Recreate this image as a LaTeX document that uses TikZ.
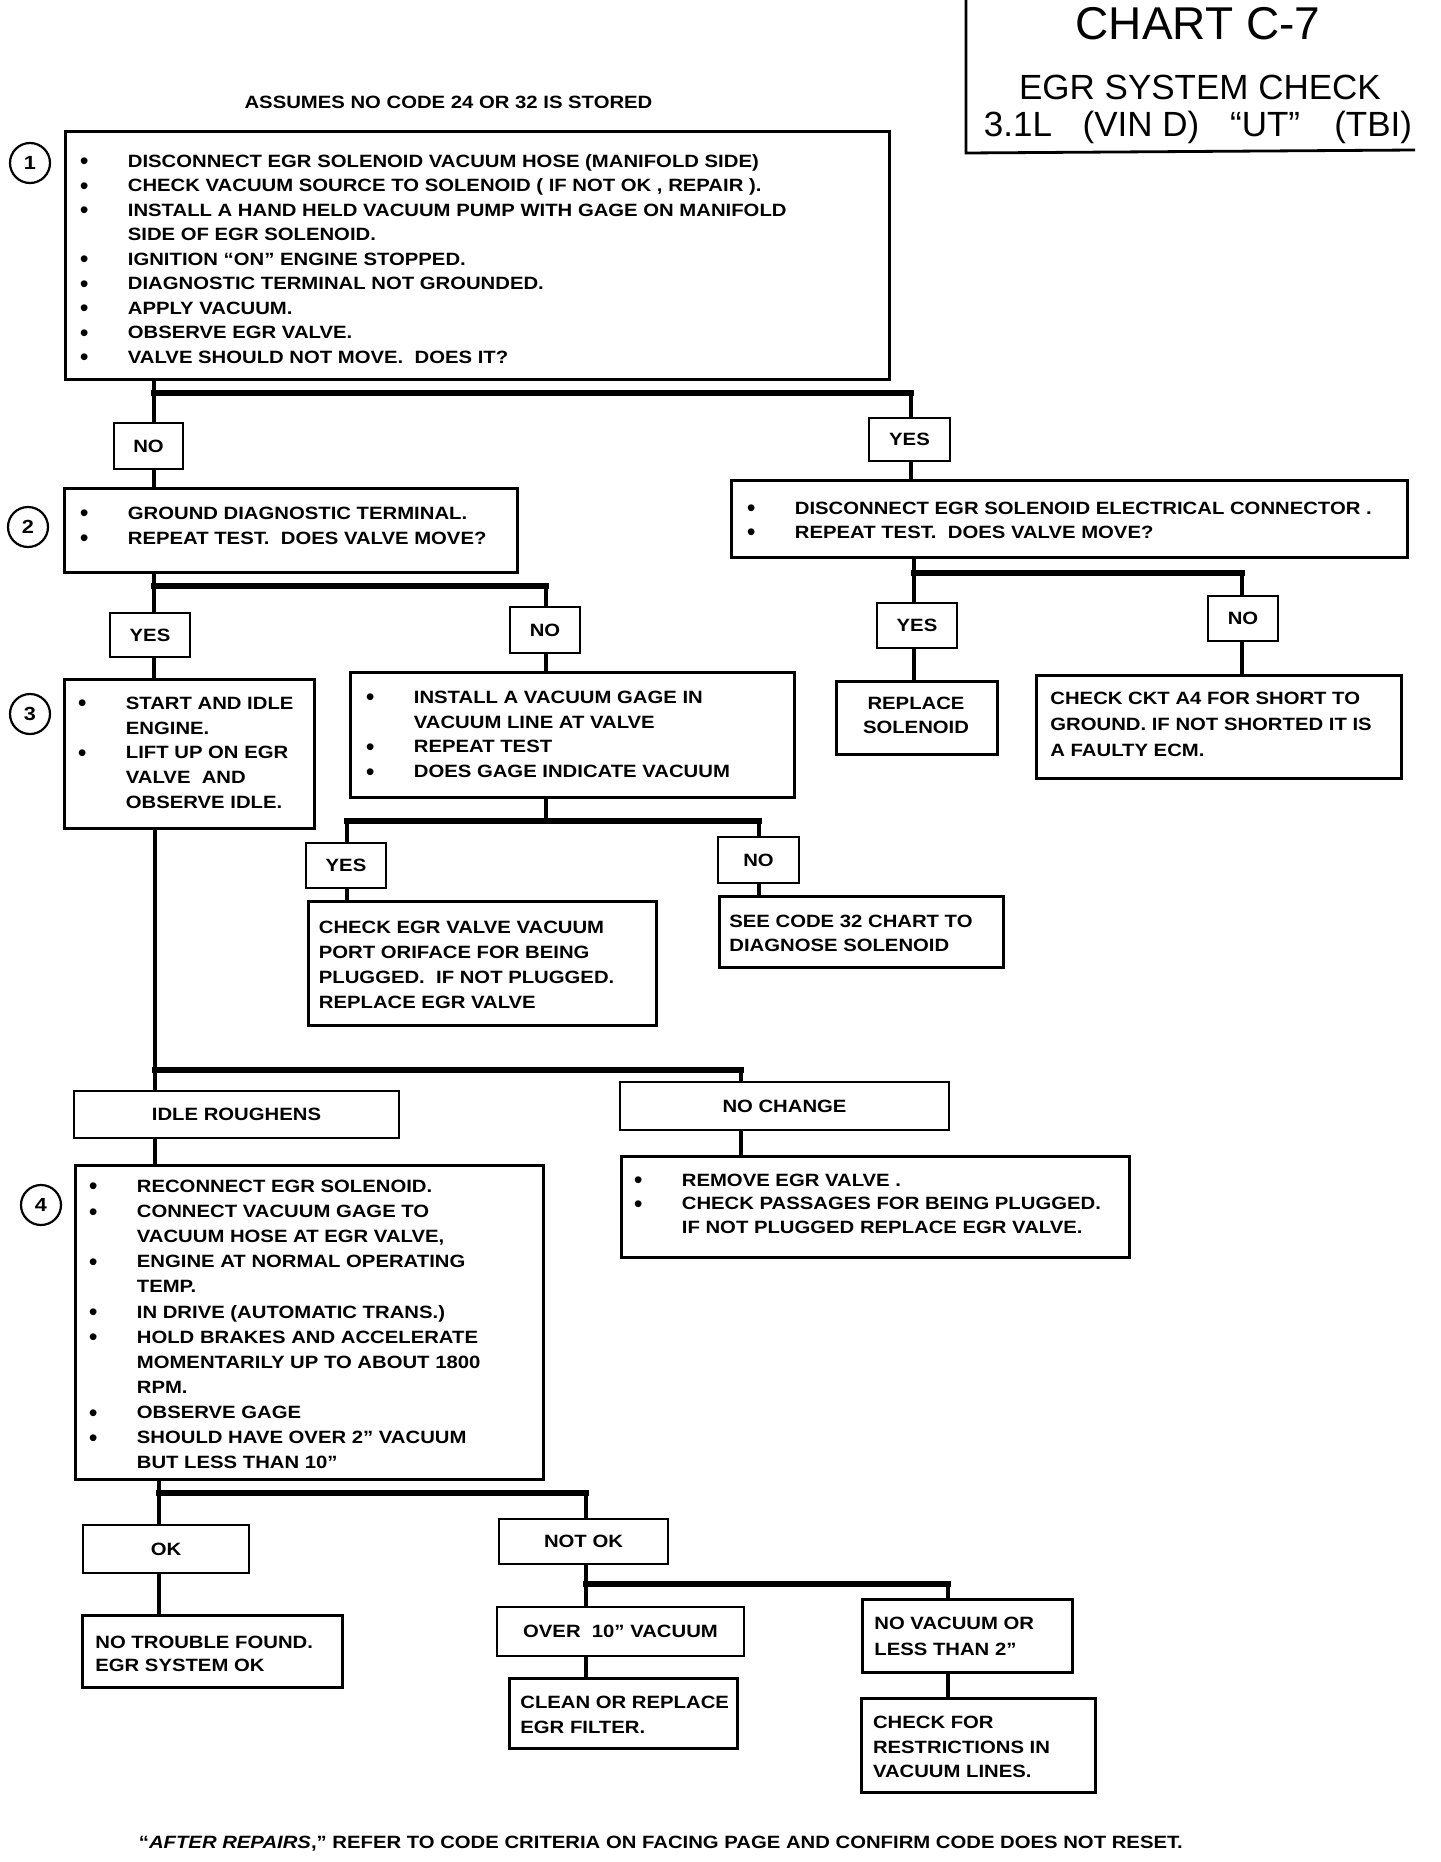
\documentclass[tikz,border=0pt]{standalone}
\usepackage{fontspec}
\setmainfont{Liberation Sans}
\newfontfamily\bodyfont[FakeStretch=1.14,ItalicFont={Liberation Sans Bold Italic}]{Liberation Sans Bold}
\newfontfamily\titlefont{Liberation Sans}
\newcommand\bu{\makebox[24pt][l]{\raisebox{-1.3pt}{\titlefont\fontsize{12.5}{0}\selectfont\textbullet}}}
\newcommand\ind{\hspace*{24pt}}
\newcommand\tl[1]{\begin{tabular}[t]{@{}l@{}}#1\end{tabular}}
\newcommand\tc[1]{\begin{tabular}[t]{@{}c@{}}#1\end{tabular}}
\newcommand\rbox[5]{\node[boxs, minimum width={(#4-#2)*0.5pt}, minimum height={(#5-#3)*0.5pt}] (#1) at (#2,#3) {};}
\tikzset{
  boxs/.style={draw, line width=1.35pt, inner sep=0pt, anchor=north west},
  lbl/.style={draw, line width=1.35pt, inner sep=0pt, font=\bodyfont\fontsize{8.9}{12}\selectfont},
  txt/.style={inner sep=0pt, anchor=base west, font=\bodyfont\fontsize{8.9}{#1}\selectfont},
  txt/.default=12.4,
  ctxt/.style={inner sep=0pt, anchor=base, font=\bodyfont\fontsize{8.9}{#1}\selectfont},
  ctxt/.default=12.4,
  conn/.style={line width=2.1pt},
  bar/.style={line width=2.9pt, line cap=rect},
  num/.style={circle, draw, line width=1.1pt, minimum size=20pt, inner sep=0pt, font=\bodyfont\fontsize{9.5}{10}\selectfont},
}
\begin{document}
\begin{tikzpicture}[x=0.5pt,y=-0.5pt]
\useasboundingbox (0,0) rectangle (1440,1862);
% title
\draw[line width=1.4pt] (966,0) -- (966,153) -- (1415,150);
\node[anchor=base, inner sep=0pt, font=\titlefont\fontsize{23}{26}\selectfont] (ttl1) at (1198,39.5) {CHART C-7};
\node[anchor=base, inner sep=0pt, font=\titlefont\fontsize{17.5}{20}\selectfont] (ttl2) at (1200,100) {EGR SYSTEM CHECK};
\node[anchor=base, inner sep=0pt, font=\titlefont\fontsize{17.5}{20}\selectfont] (ttl3) at (1198,137) {3.1L\hspace{0.6em} (VIN D)\hspace{0.6em} “UT”\hspace{0.7em} (TBI)};
\node[ctxt] (assume) at (448.5,108.3) {ASSUMES NO CODE 24 OR 32 IS STORED};
% circles
\node[num] (c1) at (30,163) {1};
\node[num] (c2) at (28,527) {2};
\node[num] (c3) at (30,714) {3};
\node[num] (c4) at (41,1205) {4};
% boxes
\rbox{box1}{64}{130}{888}{378}
\node[txt=12.25] (box1t) at (79.5,167.3) {\tl{\bu DISCONNECT EGR SOLENOID VACUUM HOSE (MANIFOLD SIDE)\\
\bu CHECK VACUUM SOURCE TO SOLENOID ( IF NOT OK , REPAIR ).\\
\bu INSTALL A HAND HELD VACUUM PUMP WITH GAGE ON MANIFOLD\\
\ind SIDE OF EGR SOLENOID.\\
\bu IGNITION “ON” ENGINE STOPPED.\\
\bu DIAGNOSTIC TERMINAL NOT GROUNDED.\\
\bu APPLY VACUUM.\\
\bu OBSERVE EGR VALVE.\\
\bu VALVE SHOULD NOT MOVE.\ \ DOES IT?}};
\node[lbl, minimum width=34.5pt, minimum height=23pt] (no1) at (148.5,446) {NO};
\node[lbl, minimum width=40.5pt, minimum height=21.5pt] (yes1) at (909.5,439.5) {YES};
\rbox{box2}{63}{487}{516}{571}
\node[txt=12.5] (box2t) at (79.5,519.3) {\tl{\bu GROUND DIAGNOSTIC TERMINAL.\\
\bu REPEAT TEST.\ \ DOES VALVE MOVE?}};
\rbox{box2R}{730}{479}{1406}{556}
\node[txt=12] (box2Rt) at (746.5,514.3) {\tl{\bu DISCONNECT EGR SOLENOID ELECTRICAL CONNECTOR .\\
\bu REPEAT TEST.\ \ DOES VALVE MOVE?}};
\node[lbl, minimum width=40pt, minimum height=22pt] (yes2) at (150,635) {YES};
\node[lbl, minimum width=35pt, minimum height=23pt] (no2) at (545,630) {NO};
\rbox{box3}{63}{678}{313}{827}
\node[txt=12.4] (box3t) at (77.5,709.3) {\tl{\bu START AND IDLE\\
\ind ENGINE.\\
\bu LIFT UP ON EGR\\
\ind VALVE\ \ AND\\
\ind OBSERVE IDLE.}};
\rbox{inst}{349}{671}{793}{796}
\node[txt=12.35] (instt) at (365.5,703.3) {\tl{\bu INSTALL A VACUUM GAGE IN\\
\ind VACUUM LINE AT VALVE\\
\bu REPEAT TEST\\
\bu DOES GAGE INDICATE VACUUM}};
\node[lbl, minimum width=40pt, minimum height=22.5pt] (yes4) at (917,625.5) {YES};
\node[lbl, minimum width=35pt, minimum height=22.5pt] (no4) at (1243,618.5) {NO};
\rbox{repl}{835}{680}{996}{753}
\node[ctxt=12] (replt) at (916,709.3) {\tc{REPLACE\\SOLENOID}};
\rbox{chkckt}{1035}{674}{1400}{777}
\node[txt=13] (chkcktt) at (1050,704.3) {\tl{CHECK CKT A4 FOR SHORT TO\\
GROUND. IF NOT SHORTED IT IS\\
A FAULTY ECM.}};
\node[lbl, minimum width=40pt, minimum height=22.5pt] (yes3) at (346,865.5) {YES};
\node[lbl, minimum width=40.5pt, minimum height=23pt] (no3) at (758.5,860) {NO};
\rbox{chkegr}{307}{900}{655}{1024}
\node[txt=12.5] (chkegrt) at (318.5,933) {\tl{CHECK EGR VALVE VACUUM\\
PORT ORIFACE FOR BEING\\
PLUGGED.\ \ IF NOT PLUGGED.\\
REPLACE EGR VALVE}};
\rbox{seecode}{718}{895}{1002}{966}
\node[txt=12.2] (seecodet) at (729,927) {\tl{SEE CODE 32 CHART TO\\
DIAGNOSE SOLENOID}};
\node[lbl, minimum width=162.5pt, minimum height=23.5pt] (idle) at (236.5,1114.5) {IDLE ROUGHENS};
\node[lbl, minimum width=164.5pt, minimum height=24pt] (nochg) at (784.5,1106) {NO CHANGE};
\rbox{remove}{620}{1155}{1128}{1256}
\node[txt=11.75] (removet) at (633.5,1186.3) {\tl{\bu REMOVE EGR VALVE .\\
\bu CHECK PASSAGES FOR BEING PLUGGED.\\
\ind IF NOT PLUGGED REPLACE EGR VALVE.}};
\rbox{box4}{74}{1164}{542}{1478}
\node[txt=12.57] (box4t) at (88.5,1192.3) {\tl{\bu RECONNECT EGR SOLENOID.\\
\bu CONNECT VACUUM GAGE TO\\
\ind VACUUM HOSE AT EGR VALVE,\\
\bu ENGINE AT NORMAL OPERATING\\
\ind TEMP.\\
\bu IN DRIVE (AUTOMATIC TRANS.)\\
\bu HOLD BRAKES AND ACCELERATE\\
\ind MOMENTARILY UP TO ABOUT 1800\\
\ind RPM.\\
\bu OBSERVE GAGE\\
\bu SHOULD HAVE OVER 2” VACUUM\\
\ind BUT LESS THAN 10”}};
\node[lbl, minimum width=83pt, minimum height=24pt] (ok) at (166,1549) {OK};
\node[lbl, minimum width=84.5pt, minimum height=22.5pt] (notok) at (583.5,1541.5) {NOT OK};
\rbox{notrouble}{81}{1614}{341}{1686}
\node[txt=11.5] (notroublet) at (95,1648.3) {\tl{NO TROUBLE FOUND.\\
EGR SYSTEM OK}};
\node[lbl, minimum width=123.5pt, minimum height=24.5pt] (over10) at (620.5,1631.5) {OVER\ \ 10” VACUUM};
\rbox{novac}{861}{1598}{1071}{1671}
\node[txt=13] (novact) at (874,1629.3) {\tl{NO VACUUM OR\\
LESS THAN 2”}};
\rbox{clean}{508}{1677}{736}{1747}
\node[txt=12.25] (cleant) at (520,1708.8) {\tl{CLEAN OR REPLACE\\
EGR FILTER.}};
\rbox{chkfor}{860}{1697}{1094}{1791}
\node[txt=12.4] (chkfort) at (872.6,1728.3) {\tl{CHECK FOR\\
RESTRICTIONS IN\\
VACUUM LINES.}};
\node[txt] (footer) at (138.5,1848) {“\textit{AFTER REPAIRS},” REFER TO CODE CRITERIA ON FACING PAGE AND CONFIRM CODE DOES NOT RESET.};
% connectors
\coordinate (xA) at (154,0);
\coordinate (xB) at (911,0);
\coordinate (j1) at (154,393);
\draw[conn] (box1.south -| xA) -- (no1.north -| xA);
\draw[conn] (no1.south -| xA) -- (box2.north -| xA);
\draw[bar] (j1) -- (j1 -| xB);
\draw[conn] (j1 -| xB) -- (yes1.north -| xB);
\draw[conn] (yes1.south -| xB) -- (box2R.north -| xB);
\coordinate (j2) at (154,586);
\coordinate (xC) at (546,0);
\draw[conn] (box2.south -| xA) -- (yes2.north -| xA);
\draw[conn] (yes2.south -| xA) -- (box3.north -| xA);
\draw[bar] (j2) -- (j2 -| xC);
\draw[conn] (j2 -| xC) -- (no2.north -| xC);
\draw[conn] (no2.south -| xC) -- (inst.north -| xC);
\coordinate (j3) at (347,821);
\coordinate (xD) at (759,0);
\draw[conn] (inst.south -| xC) -- (j3 -| xC);
\draw[bar] (j3) -- (j3 -| xD);
\draw[conn] (j3) -- (j3 |- yes3.north);
\draw[conn] (j3 -| xD) -- (xD |- no3.north);
\draw[conn] (yes3.south -| j3) -- (chkegr.north -| j3);
\draw[conn] (no3.south -| xD) -- (seecode.north -| xD);
\coordinate (jR) at (914,573);
\coordinate (xE) at (1242,0);
\draw[conn] (box2R.south -| jR) -- (yes4.north -| jR);
\draw[bar] (jR) -- (jR -| xE);
\draw[conn] (jR -| xE) -- (no4.north -| xE);
\draw[conn] (yes4.south -| jR) -- (repl.north -| jR);
\draw[conn] (no4.south -| xE) -- (chkckt.north -| xE);
\coordinate (j4) at (155,1070);
\coordinate (xF) at (741,0);
\draw[conn] (box3.south -| j4) -- (idle.north -| j4);
\draw[bar] (j4) -- (j4 -| xF);
\draw[conn] (j4 -| xF) -- (nochg.north -| xF);
\draw[conn] (idle.south -| j4) -- (box4.north -| j4);
\draw[conn] (nochg.south -| xF) -- (remove.north -| xF);
\coordinate (j5) at (159,1493);
\coordinate (xG) at (586,0);
\draw[conn] (box4.south -| j5) -- (ok.north -| j5);
\draw[bar] (j5) -- (j5 -| xG);
\draw[conn] (j5 -| xG) -- (notok.north -| xG);
\draw[conn] (ok.south -| j5) -- (notrouble.north -| j5);
\coordinate (j6) at (586,1584);
\coordinate (xH) at (948,0);
\draw[conn] (notok.south -| j6) -- (over10.north -| j6);
\draw[bar] (j6) -- (j6 -| xH);
\draw[conn] (j6 -| xH) -- (novac.north -| xH);
\draw[conn] (over10.south -| j6) -- (clean.north -| j6);
\draw[conn] (novac.south -| xH) -- (chkfor.north -| xH);
\end{tikzpicture}
\end{document}
